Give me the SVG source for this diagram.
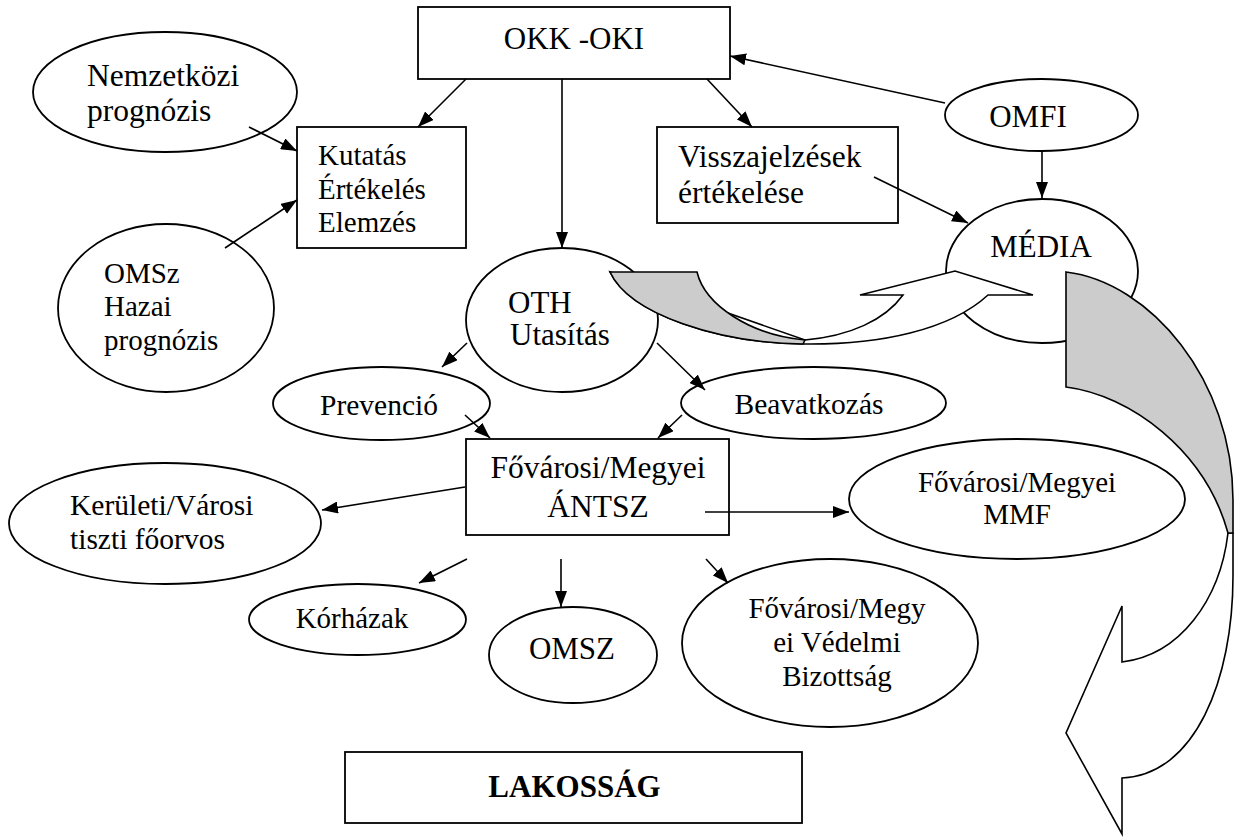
<svg xmlns="http://www.w3.org/2000/svg" width="1242" height="837" viewBox="0 0 1242 837">
<defs>
<style>
.n{fill:#fff;stroke:#000;stroke-width:1.8}
.t{fill:#000}
.c{text-anchor:middle}
.l{stroke:#000;stroke-width:1.6;fill:none;marker-end:url(#ah)}
.ba{stroke:#000;stroke-width:1.6;stroke-linejoin:miter}
</style>
<marker id="ah" markerWidth="16" markerHeight="12" refX="16" refY="6" orient="auto" markerUnits="userSpaceOnUse">
<path d="M0,0 L16,6 L0,12 z" fill="#000"/>
</marker>
</defs>
<rect width="1242" height="837" fill="#fff"/>
<g font-family="'Liberation Serif', 'Times New Roman', 'DejaVu Serif', serif">
<g id="okk-oki">
<rect class="n" x="418" y="7" width="312" height="72"/>
<text class="t c" x="574" y="49" font-size="31">OKK -OKI</text>
</g>
<g id="nemzetkozi">
<ellipse class="n" cx="165" cy="92" rx="132" ry="60"/>
<text class="t" x="87" y="86" font-size="31.5">Nemzetközi</text>
<text class="t" x="87" y="121" font-size="31.5">prognózis</text>
</g>
<g id="kutatas">
<rect class="n" x="297" y="127" width="169" height="121"/>
<text class="t" x="318" y="165" font-size="29">Kutatás</text>
<text class="t" x="318" y="199" font-size="29">Értékelés</text>
<text class="t" x="318" y="232" font-size="29">Elemzés</text>
</g>
<g id="omsz-hazai">
<ellipse class="n" cx="166" cy="308" rx="108" ry="84"/>
<text class="t" x="104" y="283" font-size="29">OMSz</text>
<text class="t" x="104" y="316" font-size="29">Hazai</text>
<text class="t" x="104" y="350" font-size="29">prognózis</text>
</g>
<g id="visszajelzesek">
<rect class="n" x="657" y="127" width="241" height="96"/>
<text class="t" x="678" y="167" font-size="31.5">Visszajelzések</text>
<text class="t" x="678" y="203" font-size="31.5">értékelése</text>
</g>
<g id="omfi">
<ellipse class="n" cx="1041.5" cy="115" rx="96.5" ry="36"/>
<text class="t c" x="1028" y="127" font-size="31">OMFI</text>
</g>
<g id="media">
<ellipse class="n" cx="1042" cy="271" rx="96" ry="72"/>
<text class="t c" x="1041" y="257" font-size="31">MÉDIA</text>
</g>
<g id="oth">
<ellipse class="n" cx="562" cy="320" rx="96" ry="72"/>
<text class="t" x="508" y="313" font-size="31">OTH</text>
<text class="t" x="510" y="345" font-size="31">Utasítás</text>
</g>
<g id="prevencio">
<ellipse class="n" cx="381.5" cy="403.5" rx="108.5" ry="36.5"/>
<text class="t c" x="379" y="415" font-size="29.5">Prevenció</text>
</g>
<g id="beavatkozas">
<ellipse class="n" cx="813.5" cy="403" rx="132.5" ry="36"/>
<text class="t c" x="809" y="414" font-size="29.5">Beavatkozás</text>
</g>
<g id="antsz">
<rect class="n" x="466" y="439" width="263" height="96"/>
<text class="t c" x="598" y="478" font-size="31.5">Fővárosi/Megyei</text>
<text class="t c" x="598" y="517" font-size="31.5">ÁNTSZ</text>
</g>
<g id="keruleti">
<ellipse class="n" cx="165" cy="523.5" rx="156" ry="60.5"/>
<text class="t" x="70" y="515" font-size="29.5">Kerületi/Városi</text>
<text class="t" x="70" y="549" font-size="29.5">tiszti főorvos</text>
</g>
<g id="mmf">
<ellipse class="n" cx="1017" cy="499" rx="168" ry="60"/>
<text class="t c" x="1017" y="492" font-size="29">Fővárosi/Megyei</text>
<text class="t c" x="1017" y="524" font-size="29">MMF</text>
</g>
<g id="korhazak">
<ellipse class="n" cx="357.5" cy="619.5" rx="108.5" ry="35.5"/>
<text class="t c" x="352" y="628" font-size="29">Kórházak</text>
</g>
<g id="omsz">
<ellipse class="n" cx="573" cy="655" rx="84" ry="48"/>
<text class="t c" x="572" y="659" font-size="31">OMSZ</text>
</g>
<g id="vedelmi">
<ellipse class="n" cx="830" cy="643" rx="148" ry="84"/>
<text class="t c" x="837" y="618" font-size="29">Fővárosi/Megy</text>
<text class="t c" x="837" y="652" font-size="29">ei Védelmi</text>
<text class="t c" x="837" y="686" font-size="29">Bizottság</text>
</g>
<g id="lakossag">
<rect class="n" x="345" y="752" width="457" height="71"/>
<text class="t c" x="574.5" y="797" font-size="31" font-weight="bold">LAKOSSÁG</text>
</g>
</g>
<g id="connectors">
<line class="l" x1="466" y1="79" x2="418" y2="127"/>
<line class="l" x1="562" y1="79" x2="562" y2="248"/>
<line class="l" x1="707" y1="79" x2="752" y2="127"/>
<line class="l" x1="945" y1="103" x2="730" y2="56"/>
<line class="l" x1="1042" y1="151" x2="1042" y2="198"/>
<line class="l" x1="874" y1="177" x2="968" y2="223"/>
<line class="l" x1="249" y1="127" x2="297" y2="151"/>
<line class="l" x1="225" y1="248" x2="297" y2="200"/>
<line class="l" x1="467" y1="343" x2="442" y2="367"/>
<line class="l" x1="657" y1="343" x2="705" y2="390"/>
<line class="l" x1="465" y1="415" x2="490" y2="438"/>
<line class="l" x1="682" y1="415" x2="658" y2="438"/>
<line class="l" x1="465" y1="487" x2="322" y2="510"/>
<line class="l" x1="705" y1="512" x2="849" y2="512"/>
<line class="l" x1="467" y1="559" x2="419" y2="583"/>
<line class="l" x1="561" y1="559" x2="561" y2="607"/>
<line class="l" x1="706" y1="559" x2="728" y2="583"/>
<g id="curved-arrow-oth-media">
<path class="ba" fill="#fff" d="M610,272 C630,315 720,343 803,344 C880,345 950,330 988,295 L1033,295 L955,271 L860,295 L903,295 C885,320 850,336 805,340 Z"/>
<path class="ba" fill="#cccccc" d="M610,272 L697,272 C705,305 750,335 805,340 L803,344 C720,343 630,315 610,272 Z"/>
</g>
<g id="curved-arrow-media-lakossag">
<path class="ba" fill="#fff" d="M1228,533 C1220,600 1180,655 1122,662 L1122,606 L1066,733 L1122,834 L1122,778 C1195,775 1233,680 1233,576 L1233,533 Z"/>
<path class="ba" fill="#cccccc" d="M1066,272 C1150,282 1233,380 1233,500 L1233,533 L1228,533 C1205,450 1130,395 1066,387 Z"/>
</g>
</g>
</svg>
